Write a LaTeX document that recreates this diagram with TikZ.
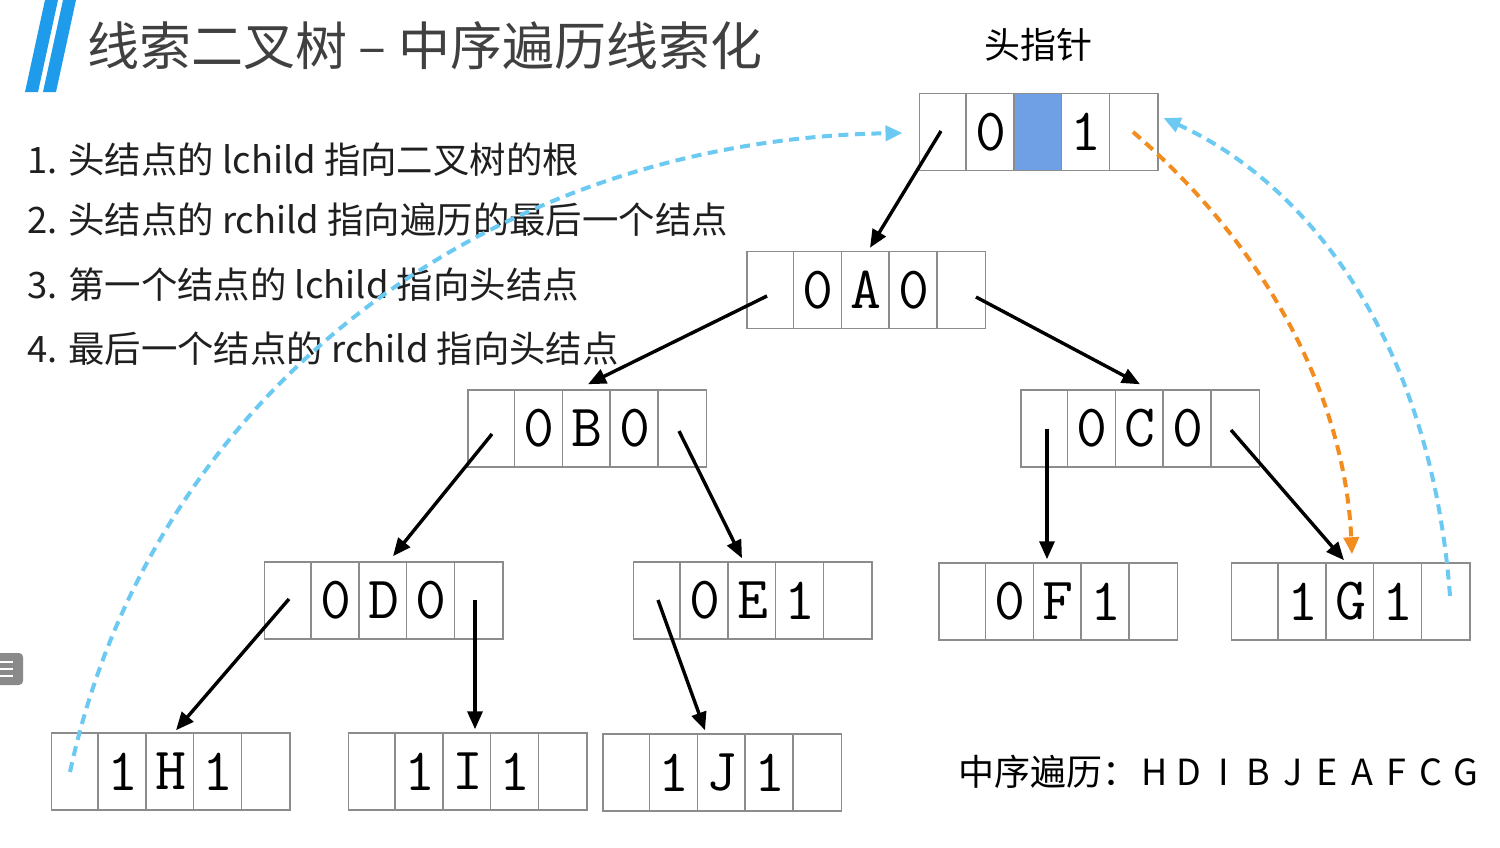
\documentclass[tikz,border=0pt]{standalone}
\usepackage{fontspec}
\setmainfont{Noto Sans CJK SC}
\usetikzlibrary{arrows.meta,calc}

\definecolor{boxgray}{HTML}{8C8C8C}
\definecolor{headblue}{HTML}{6FA0E6}
\definecolor{barblue}{HTML}{1E9BEA}
\definecolor{threadblue}{HTML}{6CCAF2}
\definecolor{threadorange}{HTML}{F28C1E}
\definecolor{titlegray}{HTML}{404040}
\definecolor{iconggray}{HTML}{8A8A8A}

\tikzset{
  tcell/.style={draw=boxgray, line width=1.5pt, minimum width=238.5pt,
    minimum height=77pt, inner sep=0pt},
  cellline/.style={draw=boxgray, line width=1.5pt},
  tchar/.style={inner sep=0pt, font=\fontsize{60}{60}\selectfont\ttfamily},
  treearrow/.style={line width=3.4pt, -{Triangle[length=18pt,width=15pt]}},
  bluethread/.style={draw=threadblue, line width=4pt, dash pattern=on 10pt off 6.5pt,
    -{Triangle[length=17pt,width=15pt]}},
  orangethread/.style={draw=threadorange, line width=4pt, dash pattern=on 10pt off 6.5pt,
    -{Triangle[length=17pt,width=15pt]}},
  rule/.style={anchor=west, inner sep=0pt, text=black!88,
    font=\fontsize{36.4}{36.4}\selectfont},
}

% five-cell thread node: name, x, y, ltag, data, rtag
\newcommand{\threadnode}[6]{%
  \node[tcell] (#1) at (#2,#3) {};
  \foreach \k in {1,2,3,4}
    \draw[cellline] ($(#1.north west)+(\k*47.7,0)$) -- ($(#1.south west)+(\k*47.7,0)$);
  \node[tchar] (#1-l) at ($(#1.center)+(-47.7,0)$) {#4};
  \node[tchar] (#1-m) at (#1.center) {#5};
  \node[tchar] (#1-r) at ($(#1.center)+(47.7,0)$) {#6};
}

\begin{document}
\begin{tikzpicture}[x=1pt,y=-1pt]
\useasboundingbox (0,0) rectangle (1500,847);
\fill[white] (0,0) rectangle (1500,847);

% title bars and title
\fill[barblue] (45,0) -- (58,0) -- (38,92) -- (25,92) -- cycle;
\fill[barblue] (63,0) -- (76,0) -- (56,92) -- (43,92) -- cycle;
\node[anchor=west, inner sep=0pt, text=titlegray, font=\fontsize{52}{52}\selectfont]
  (title) at (87,46) {线索二叉树 – 中序遍历线索化};

% side menu icon
\fill[iconggray, rounded corners=4pt] (-10,653) rectangle (23,685);
\foreach \yy in {662,669,676}
  \draw[white, line width=2pt] (0,\yy) -- (13,\yy);

% rules
\node[rule] (r1) at (27,160) {1. 头结点的 lchild 指向二叉树的根};
\node[rule] (r2) at (27,220) {2. 头结点的 rchild 指向遍历的最后一个结点};
\node[rule] (r3) at (27,285) {3. 第一个结点的 lchild 指向头结点};
\node[rule] (r4) at (27,349) {4. 最后一个结点的 rchild 指向头结点};

% head pointer
\node[inner sep=0pt, font=\fontsize{36}{36}\selectfont] (hdlabel) at (1038,45) {头指针};
\fill[headblue] (1014.3,93.5) rectangle (1062,170.5);
\threadnode{hd}{1038.5}{132}{0}{}{1}

% tree nodes
\threadnode{A}{866}{290}{0}{A}{0}
\threadnode{B}{587}{428.5}{0}{B}{0}
\threadnode{C}{1140}{428.5}{0}{C}{0}
\threadnode{D}{383.5}{600.5}{0}{D}{0}
\threadnode{E}{752.5}{600.5}{0}{E}{1}
\threadnode{F}{1058}{601.5}{0}{F}{1}
\threadnode{G}{1350.5}{601.5}{1}{G}{1}
\threadnode{H}{170.5}{771.5}{1}{H}{1}
\threadnode{I}{467.5}{771.5}{1}{I}{1}
\threadnode{J}{722}{772.5}{1}{J}{1}

% child pointers
\draw[treearrow] ($(hd.center)+(-97.5,-1)$) -- ($(A.north)+(4,-3)$);
\draw[treearrow] ($(A.center)+(-99,6)$) -- ($(B.north)+(1,-5)$);
\draw[treearrow] ($(A.center)+(110,7)$) -- ($(C.north)+(0,-5)$);
\draw[treearrow] ($(B.center)+(-95,5.5)$) -- ($(D.north)+(9.5,-5)$);
\draw[treearrow] ($(B.center)+(92,2.5)$) -- ($(E.north)+(-10.5,-3)$);
\draw[treearrow] ($(C.center)+(-93,0)$) -- ($(F.north)+(-11,-3)$);
\draw[treearrow] ($(C.center)+(91,1.5)$) -- ($(G.north)+(-6.5,-2)$);
\draw[treearrow] ($(D.center)+(-94.5,-1.5)$) -- ($(H.north)+(5.5,-2)$);
\draw[treearrow] ($(D.center)+(91.5,-0.5)$) -- ($(I.north)+(7.5,-3)$);
\draw[treearrow] ($(E.center)+(-94.5,-0.5)$) -- ($(J.north)+(-17,-3)$);

% threads
\draw[bluethread] ($(H.center)+(-100.5,0.5)$)
  .. controls (150,400) and (480,140) .. ($(hd.west)+(-16,1)$);
\draw[bluethread] ($(G.center)+(99.5,-5.5)$)
  .. controls (1430,330) and (1300,180) .. ($(hd.east)+(5,-14)$);
\draw[orangethread] ($(hd.center)+(94.5,0)$)
  .. controls (1270,250) and (1345,400) .. ($(G.north)+(1.5,-8)$);

% in-order sequence
\node[anchor=west, inner sep=0pt, font=\fontsize{36}{36}\selectfont] (seqlabel) at (958,772) {中序遍历：};
\node[anchor=west, inner sep=0pt, font=\fontsize{36}{36}\selectfont] (seq) at (1137,772)
  {\makebox[34.6pt]{H}\makebox[34.6pt]{D}\makebox[34.6pt]{I}\makebox[34.6pt]{B}\makebox[34.6pt]{J}\makebox[34.6pt]{E}\makebox[34.6pt]{A}\makebox[34.6pt]{F}\makebox[34.6pt]{C}\makebox[34.6pt]{G}};
\end{tikzpicture}
\end{document}
